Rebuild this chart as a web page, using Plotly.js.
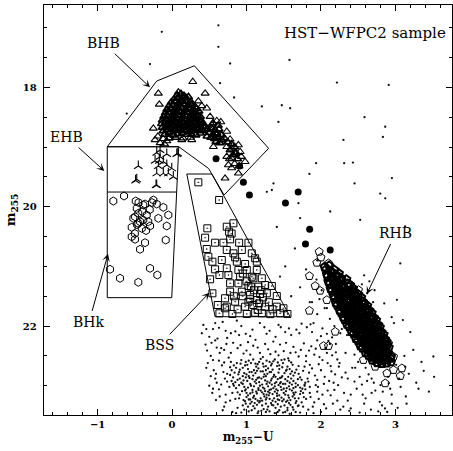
<!DOCTYPE html>
<html><head><meta charset="utf-8">
<script src="https://cdn.plot.ly/plotly-3.0.1.min.js"></script>
<style>html,body{margin:0;padding:0;background:#fff;}#plot{width:453px;height:451px;}</style>
</head><body><div id="plot"></div>
<script>
// ---- axes ----
const xTickVals = [-1, 0, 1, 2, 3];
const yTickVals = [18, 20, 22];
const xRange = [-1.72, 3.76];
const yRange = [23.49, 16.62];

// ---- region boundaries (data coords: [m255-U, m255]) ----
const bhbBox = [[-0.870,18.995],[-0.206,17.894],[0.300,17.638],[1.297,19.022],[0.699,19.804],[0.491,19.360],[0.090,18.995],[-0.870,18.995]];
const ehbBhkBox = [[-0.870,18.995],[0.090,18.995],[-0.004,21.524],[-0.870,21.524],[-0.870,18.995]];
const ehbDivider = [[-0.870,19.754],[0.062,19.754]];
const bssBox = [[0.198,19.452],[0.534,19.452],[1.586,21.843],[0.578,21.843],[0.198,19.452]];

// ---- BHB stars (triangles): isolated ones ----
const bhbStarsSparse = [
[0.278,17.906],[-0.184,18.10],[0.085,18.08],[0.444,18.10],[-0.171,18.285],[0.353,18.23],[0.466,18.35],[0.399,18.31],
[-0.251,18.687],[-0.228,18.88],[0.265,18.88],[0.130,18.88],[0.511,18.49],[0.601,18.56],[0.655,18.58],[0.534,18.63],
[0.520,18.715],[0.780,18.87],[0.735,18.995],[0.891,18.966],[0.914,19.079],[0.802,19.022],[0.981,19.246],[0.757,19.30],
[0.712,19.524],[0.891,19.44],[0.555,18.995],[-0.050,18.49],[0.735,18.74],[0.735,19.16],[0.802,19.19],[0.847,19.105],
[0.84,19.28],[0.80,19.35],[0.90,19.32],[0.93,19.16],[0.77,19.20],
[-0.12,18.86],[-0.07,18.90],[-0.10,18.95],[-0.16,18.93],[-0.19,18.82],[0.15,18.85],[0.25,18.84]
];
// ---- BHB stars (triangles): crowded clump ----
const bhbStarsDense = [
[0.07,18.13],[0.12,18.11],[0.16,18.14],
[0.03,18.19],[0.08,18.17],[0.13,18.20],[0.19,18.18],[0.22,18.16],
[-0.01,18.25],[0.04,18.23],[0.09,18.26],[0.14,18.24],[0.19,18.22],[0.24,18.25],[0.27,18.27],
[-0.04,18.31],[0.01,18.29],[0.06,18.32],[0.11,18.30],[0.16,18.28],[0.21,18.31],[0.26,18.30],[0.31,18.33],
[-0.07,18.37],[-0.02,18.35],[0.03,18.38],[0.08,18.36],[0.13,18.34],[0.18,18.37],[0.23,18.35],[0.28,18.38],[0.33,18.36],
[-0.09,18.43],[-0.04,18.41],[0.01,18.44],[0.06,18.42],[0.11,18.40],[0.16,18.43],[0.21,18.41],[0.26,18.44],[0.31,18.42],[0.36,18.40],
[-0.11,18.49],[-0.06,18.47],[-0.01,18.50],[0.04,18.48],[0.09,18.46],[0.14,18.49],[0.19,18.47],[0.24,18.50],[0.29,18.48],[0.34,18.46],[0.38,18.49],
[-0.13,18.55],[-0.08,18.53],[-0.03,18.56],[0.02,18.54],[0.07,18.52],[0.12,18.55],[0.17,18.53],[0.22,18.56],[0.27,18.54],[0.32,18.52],[0.37,18.55],[0.40,18.57],
[-0.14,18.61],[-0.09,18.59],[-0.04,18.62],[0.01,18.60],[0.06,18.58],[0.11,18.61],[0.16,18.59],[0.21,18.62],[0.26,18.60],[0.31,18.58],[0.36,18.61],[0.41,18.60],
[-0.13,18.67],[-0.08,18.65],[-0.03,18.68],[0.02,18.66],[0.07,18.64],[0.12,18.67],[0.17,18.65],[0.22,18.68],[0.27,18.66],[0.32,18.64],[0.37,18.67],[0.42,18.66],
[-0.12,18.73],[-0.07,18.71],[-0.02,18.74],[0.03,18.72],[0.08,18.70],[0.13,18.73],[0.18,18.71],[0.23,18.74],[0.28,18.72],[0.33,18.70],[0.38,18.73],[0.42,18.72],
[-0.10,18.79],[-0.04,18.77],[0.02,18.80],[0.08,18.78],[0.14,18.76],[0.20,18.79],[0.26,18.78],[0.32,18.80],[0.38,18.77],
[0.48,18.70],[0.53,18.68],[0.58,18.72],[0.63,18.70],[0.50,18.76],[0.55,18.79],[0.60,18.77],[0.66,18.80],[0.52,18.84],[0.57,18.86],
[0.62,18.83],[0.67,18.88],[0.59,18.91],[0.64,18.93],[0.70,18.85],[0.47,18.82],[0.45,18.66],[0.55,18.60],[0.62,18.64],
[0.75,18.92],[0.80,18.95],[0.84,19.00],[0.78,19.05],[0.86,19.10],[0.82,19.13],[0.88,19.20],
[-0.04,18.85],[0.05,18.84]
];

// ---- EHB stars (tri-stars) ----
const ehbStars = [
[-0.453,19.318],[-0.474,19.541],[-0.490,19.56],[0.077,19.106],[-0.206,19.095],[-0.161,19.162],[-0.228,19.229],[-0.117,19.246],
[-0.184,19.318],[-0.071,19.302],[-0.206,19.441],[-0.117,19.441],[-0.050,19.441],[-0.004,19.357],[-0.206,19.637],[-0.161,19.050],
[-0.071,19.117],[0.063,19.117],[0.017,19.497],[-0.171,19.229],[-0.215,19.637]
];

// ---- BHk stars (hexagons) ----
const bhkStars = [
[-0.789,19.905],[-0.645,19.821],[-0.488,19.905],[-0.363,19.955],[-0.251,19.888],[-0.206,19.955],[-0.117,20.010],[-0.050,20.139],
[-0.474,20.027],[-0.453,20.111],[-0.340,20.139],[-0.184,20.194],[-0.520,20.194],[-0.430,20.251],[-0.319,20.251],[-0.542,20.345],
[-0.407,20.362],[-0.296,20.323],[-0.071,20.323],[-0.542,20.503],[-0.497,20.546],[-0.363,20.603],[-0.085,20.558],[-0.430,20.714],
[-0.833,21.049],[-0.699,21.199],[-0.453,21.266],[-0.296,21.032],[-0.198,21.144],[-0.386,19.972],[-0.497,20.168],[-0.386,20.223],
[-0.453,20.278],[-0.45,19.93],[-0.27,19.93],[-0.40,20.08],[-0.30,20.05],[-0.47,20.30],[-0.35,20.40],[-0.50,20.45]
];

// ---- blue stragglers (squares) ----
const bssStars = [
[0.353,19.591],[0.632,19.888],[0.735,20.335],[0.824,20.278],[0.766,20.419],[0.474,20.362],[0.444,20.519],[0.578,20.603],
[0.690,20.603],[0.780,20.546],[0.901,20.603],[1.026,20.603],[0.466,20.709],[0.735,20.725],[0.824,20.781],[0.937,20.725],
[0.488,20.838],[0.542,20.921],[0.668,20.893],[0.847,20.848],[1.071,20.781],[1.116,20.864],[1.138,20.921],[0.870,20.921],
[0.981,20.960],[0.578,21.049],[0.735,21.032],[0.891,21.060],[1.004,21.060],[1.138,21.060],[0.636,21.144],[0.757,21.144],
[0.914,21.173],[1.093,21.199],[1.206,21.199],[0.511,21.216],[0.780,21.283],[0.891,21.283],[1.026,21.328],[1.160,21.340],
[1.250,21.312],[1.340,21.328],[0.542,21.451],[0.780,21.424],[0.937,21.424],[1.048,21.479],[1.183,21.462],[1.273,21.451],
[1.407,21.496],[0.712,21.534],[0.847,21.591],[1.026,21.591],[1.138,21.563],[0.614,21.647],[0.735,21.675],[0.981,21.675],
[1.093,21.647],[1.250,21.675],[1.407,21.675],[1.496,21.702],[0.636,21.786],[0.810,21.797],[1.004,21.797],[1.116,21.776],
[1.206,21.786],[1.452,21.786],[1.550,21.797],[0.712,21.702],[1.058,21.340],[1.071,21.173],[1.10,21.40],[1.05,21.55],
[1.17,21.62],[1.22,21.52],[1.30,21.60],[1.35,21.72],[0.95,21.50],[1.15,21.73],[0.88,21.72],[1.32,21.80],[1.00,21.25],
[0.95,21.12],[1.20,21.40],[0.83,21.50],[0.80,20.45]
];

// ---- RHB stars (pentagons): crowded sequence ----
const rhbStarsDense = [
[2.05,21.01],[2.11,20.99],
[2.07,21.05],[2.13,21.08],[2.18,21.06],
[2.08,21.13],[2.14,21.11],[2.20,21.14],[2.24,21.12],
[2.09,21.17],[2.15,21.19],[2.21,21.18],[2.27,21.20],
[2.10,21.25],[2.16,21.23],[2.22,21.26],[2.28,21.24],[2.34,21.22],
[2.12,21.29],[2.18,21.31],[2.24,21.30],[2.30,21.32],[2.36,21.29],[2.39,21.31],
[2.13,21.37],[2.19,21.35],[2.25,21.38],[2.31,21.36],[2.37,21.34],[2.43,21.37],
[2.15,21.41],[2.21,21.43],[2.27,21.42],[2.33,21.44],[2.39,21.41],[2.45,21.43],
[2.17,21.49],[2.23,21.47],[2.29,21.50],[2.35,21.48],[2.41,21.46],[2.47,21.49],[2.50,21.47],
[2.19,21.53],[2.25,21.55],[2.31,21.54],[2.37,21.56],[2.43,21.53],[2.49,21.55],[2.54,21.52],
[2.20,21.61],[2.26,21.59],[2.32,21.62],[2.38,21.60],[2.44,21.58],[2.50,21.61],[2.56,21.59],[2.58,21.62],
[2.22,21.65],[2.28,21.67],[2.34,21.66],[2.40,21.68],[2.46,21.65],[2.52,21.67],[2.58,21.64],[2.62,21.66],
[2.25,21.73],[2.31,21.71],[2.37,21.74],[2.43,21.72],[2.49,21.70],[2.55,21.73],[2.61,21.71],[2.65,21.74],
[2.27,21.77],[2.33,21.79],[2.39,21.78],[2.45,21.80],[2.51,21.77],[2.57,21.79],[2.63,21.76],[2.68,21.78],
[2.30,21.85],[2.36,21.83],[2.42,21.86],[2.48,21.84],[2.54,21.82],[2.60,21.85],[2.66,21.83],[2.71,21.86],
[2.32,21.89],[2.38,21.91],[2.44,21.90],[2.50,21.92],[2.56,21.89],[2.62,21.91],[2.68,21.88],[2.74,21.90],
[2.35,21.97],[2.41,21.95],[2.47,21.98],[2.53,21.96],[2.59,21.94],[2.65,21.97],[2.71,21.95],[2.77,21.98],
[2.38,22.01],[2.44,22.03],[2.50,22.02],[2.56,22.04],[2.62,22.01],[2.68,22.03],[2.74,22.00],[2.79,22.02],
[2.41,22.09],[2.47,22.07],[2.53,22.10],[2.59,22.08],[2.65,22.06],[2.71,22.09],[2.77,22.07],[2.81,22.10],
[2.44,22.13],[2.50,22.15],[2.56,22.14],[2.62,22.16],[2.68,22.13],[2.74,22.15],[2.80,22.12],[2.84,22.14],
[2.47,22.21],[2.53,22.19],[2.59,22.22],[2.65,22.20],[2.71,22.18],[2.77,22.21],[2.83,22.19],[2.86,22.22],
[2.50,22.25],[2.56,22.27],[2.62,22.26],[2.68,22.28],[2.74,22.25],[2.80,22.27],[2.86,22.24],[2.88,22.26],
[2.53,22.33],[2.59,22.31],[2.65,22.34],[2.71,22.32],[2.77,22.30],[2.83,22.33],[2.89,22.31],
[2.56,22.37],[2.62,22.39],[2.68,22.38],[2.74,22.40],[2.80,22.37],[2.86,22.39],[2.91,22.36],
[2.60,22.45],[2.66,22.43],[2.72,22.46],[2.78,22.44],[2.84,22.42],[2.90,22.45],
[2.64,22.49],[2.70,22.51],[2.76,22.50],[2.82,22.52],[2.88,22.49],[2.94,22.51],
[2.69,22.57],[2.75,22.55],[2.81,22.58],[2.87,22.56],[2.93,22.54],
[2.76,22.61],[2.82,22.63],[2.88,22.62],[2.94,22.60]
];
// ---- RHB stars (pentagons): isolated ones ----
const rhbStarsSparse = [
[1.976,20.754],[1.945,20.938],[1.845,21.161],[1.922,21.328],[1.845,21.742],[1.989,21.407],[2.079,21.563],[2.191,22.094],
[2.034,22.333],[2.101,22.333],[2.504,21.395],[2.571,22.568],[2.728,22.680],[2.886,22.791],[2.974,22.735],[3.087,22.707],
[3.065,22.836],[2.863,22.958],[2.751,22.623],[2.684,22.539],[2.101,20.948],[2.796,22.23],[2.907,22.288],[2.974,22.513],
[2.00,20.85]
];

// ---- filled circles ----
const dotStars = [
[0.591,19.196],[0.907,19.318],[0.958,19.591],[1.039,19.804],[1.523,19.938],[1.694,19.754],[1.848,20.377],[1.792,20.625],[2.124,20.725]
];

// ---- field stars (small dots) ----
const fieldStars = [
[0.93,22.57],[1.06,22.62],[1.19,22.55],[1.31,22.60],[1.44,22.66],[1.57,22.58],[1.01,22.65],[1.26,22.67],[1.38,22.56],[1.12,22.63],
[0.86,22.70],[0.98,22.66],[1.10,22.74],[1.23,22.68],[1.35,22.73],[1.48,22.69],[1.61,22.76],[1.04,22.77],[1.29,22.71],[1.53,22.75],
[0.84,22.78],[0.95,22.84],[1.07,22.77],[1.17,22.86],[1.28,22.80],[1.39,22.85],[1.51,22.79],[1.63,22.83],[1.00,22.81],[1.22,22.76],[1.45,22.87],[1.70,22.80],
[0.88,22.90],[0.99,22.86],[1.11,22.93],[1.20,22.88],[1.31,22.95],[1.42,22.89],[1.55,22.92],[1.66,22.96],[1.05,22.97],[1.25,22.91],[1.36,22.85],[1.49,22.97],[1.74,22.90],[0.93,22.95],
[0.90,22.99],[1.02,23.03],[1.13,22.96],[1.24,23.05],[1.34,22.98],[1.46,23.02],[1.58,23.06],[1.69,22.99],[1.08,23.07],[1.29,23.01],[1.40,23.06],[1.52,22.97],[1.18,23.00],[1.63,23.04],
[0.94,23.09],[1.05,23.13],[1.16,23.07],[1.27,23.15],[1.38,23.10],[1.50,23.12],[1.61,23.08],[1.72,23.14],[1.10,23.17],[1.33,23.06],[1.44,23.16],[1.56,23.16],[1.21,23.11],
[1.00,23.19],[1.12,23.22],[1.24,23.18],[1.35,23.25],[1.47,23.20],[1.59,23.24],[1.70,23.21],[1.07,23.27],[1.30,23.16],[1.53,23.27],[1.18,23.26],[1.41,23.17],
[1.05,23.30],[1.17,23.28],[1.29,23.35],[1.42,23.31],[1.55,23.37],[1.66,23.29],[1.23,23.39],[1.48,23.26],[1.36,23.33],[1.11,23.38],
[0.99,22.60],[1.15,22.64],[1.27,22.58],[1.42,22.61],[1.51,22.56],
[0.91,22.73],[1.16,22.71],[1.41,22.67],[1.58,22.72],[1.19,22.76],[1.33,22.66],
[0.89,22.81],[1.12,22.79],[1.33,22.77],[1.56,22.85],[1.26,22.84],[1.04,22.87],
[1.15,22.87],[1.28,22.93],[1.46,22.94],[1.60,22.88],[1.38,22.96],[1.01,22.92],
[0.97,23.02],[1.21,22.98],[1.36,23.04],[1.57,23.01],[1.45,22.96],[1.75,23.05],
[1.00,23.12],[1.25,23.09],[1.47,23.07],[1.66,23.11],[1.35,23.14],[1.13,23.10],
[1.03,23.23],[1.27,23.20],[1.44,23.24],[1.62,23.18],[1.21,23.25],[1.37,23.21],
[1.09,23.34],[1.33,23.29],[1.59,23.32],[1.20,23.42],[1.44,23.41],
[0.87,22.62],[1.03,22.58],[1.17,22.60],[1.34,22.63],[1.49,22.62],[1.62,22.65],[0.80,22.74],[0.95,22.70],[1.13,22.68],[1.26,22.74],
[1.44,22.72],[1.55,22.68],[1.67,22.73],[0.82,22.86],[0.97,22.79],[1.09,22.83],[1.24,22.81],[1.37,22.82],[1.48,22.84],[1.59,22.80],
[1.72,22.86],[0.85,22.94],[0.96,22.91],[1.08,22.89],[1.17,22.94],[1.33,22.91],[1.40,22.94],[1.52,22.89],[1.63,22.92],[1.79,22.95],
[0.86,23.04],[0.99,23.06],[1.10,23.01],[1.22,23.03],[1.31,23.07],[1.43,22.99],[1.54,23.04],[1.66,23.02],[1.78,23.00],[0.91,23.15],
[1.02,23.16],[1.14,23.13],[1.23,23.14],[1.31,23.12],[1.41,23.13],[1.53,23.09],[1.64,23.15],[1.76,23.12],[0.96,23.24],[1.09,23.20],
[1.15,23.25],[1.26,23.23],[1.39,23.27],[1.50,23.23],[1.57,23.20],[1.67,23.26],[1.02,23.35],[1.14,23.32],[1.26,23.30],[1.39,23.37],
[1.51,23.33],[1.62,23.36],[1.31,23.43],[1.49,23.45],[1.07,23.41],[1.74,23.28],
[0.83,22.66],[0.92,22.63],[1.09,22.56],[1.22,22.63],[1.36,22.59],[1.47,22.57],[1.60,22.61],[1.70,22.67],[0.78,22.82],[0.90,22.77],
[1.02,22.72],[1.14,22.75],[1.31,22.77],[1.43,22.78],[1.54,22.73],[1.65,22.78],[1.76,22.75],[0.80,22.92],[0.91,22.88],[1.03,22.84],
[1.13,22.90],[1.23,22.85],[1.34,22.88],[1.47,22.86],[1.58,22.95],[1.69,22.89],[1.82,22.88],[0.83,23.00],[0.95,22.97],[1.06,23.00],
[1.16,23.04],[1.27,22.97],[1.38,23.01],[1.50,23.05],[1.61,22.98],[1.72,23.03],[1.85,23.02],[0.88,23.11],[0.98,23.08],[1.08,23.11],
[1.19,23.08],[1.29,23.10],[1.42,23.08],[1.52,23.15],[1.63,23.12],[1.73,23.09],[0.90,23.21],[1.05,23.23],[1.19,23.21],[1.31,23.22],
[1.42,23.23],[1.55,23.25],[1.65,23.21],[1.77,23.19],[0.99,23.30],[1.11,23.29],[1.21,23.33],[1.34,23.32],[1.46,23.35],[1.57,23.29],
[1.69,23.34],[0.97,23.40],[1.16,23.43],[1.28,23.40],[1.42,23.44],[1.55,23.41],[1.66,23.44],
[0.42,21.98],[0.55,22.05],[0.68,21.93],[0.79,22.12],[0.93,22.00],[1.05,22.17],[1.18,21.95],[1.31,22.08],[1.46,22.02],[1.60,22.15],
[1.74,21.96],[1.88,22.10],[2.02,22.04],[2.15,22.19],[0.61,22.21],[0.87,21.91],[1.12,22.23],[1.39,22.18],[1.67,22.06],[1.95,22.24],
[0.45,22.31],[0.58,22.24],[0.70,22.40],[0.82,22.28],[0.96,22.46],[1.09,22.33],[1.22,22.52],[1.36,22.26],[1.50,22.42],[1.63,22.35],
[1.77,22.29],[1.91,22.48],[2.06,22.37],[2.20,22.44],[0.52,22.50],[0.76,22.53],[1.02,22.27],[1.29,22.39],[1.56,22.54],[1.84,22.41],
[2.12,22.30],[0.64,22.45],[1.15,22.36],[1.43,22.49],[1.70,22.51],
[0.40,22.12],[0.50,22.18],[0.63,22.03],[0.74,22.20],[0.85,22.09],[0.99,22.13],[1.24,22.02],[1.52,22.10],[1.81,22.02],[2.08,22.13],
[0.47,22.41],[0.60,22.36],[0.73,22.30],[0.88,22.37],[1.00,22.41],[1.18,22.45],[1.32,22.47],[1.45,22.31],[1.59,22.45],[1.73,22.40],
[1.87,22.34],[1.98,22.52],[2.15,22.49],[0.55,22.57],[0.69,22.77],[0.79,22.60],[0.58,22.88],[0.74,22.93],[0.50,23.00],[0.63,23.06],
[0.85,23.22],[0.72,23.15],[0.81,23.44],[0.95,23.33],[1.85,22.65],[1.92,22.83],[2.00,22.74],[2.09,22.62],[2.17,22.95],[1.85,23.12],
[1.97,23.22],[2.07,23.38],[2.18,23.07],[1.90,23.46],[1.78,22.68],[2.28,22.86],[2.31,23.12],[2.38,23.42],
[0.46,22.05],[0.58,21.95],[0.72,22.08],[0.90,22.15],[1.08,22.06],[1.27,22.13],[1.43,21.98],[1.57,22.04],[1.71,22.12],[1.86,21.97],
[2.00,22.17],[0.53,22.28],[0.66,22.37],[0.79,22.45],[0.92,22.32],[1.05,22.48],[1.25,22.30],[1.39,22.43],[1.53,22.28],[1.66,22.44],
[1.80,22.50],[1.93,22.38],[2.08,22.45],[2.22,22.56],[0.46,22.70],[0.59,22.80],[0.70,22.61],[0.66,22.98],[0.54,23.12],[0.70,23.35],
[0.78,23.25],[0.86,23.46],[1.84,22.78],[1.95,22.90],[2.04,22.97],[2.13,22.67],[2.23,22.99],[1.89,23.35],[2.02,23.15],[2.16,23.30],
[2.26,23.40],[1.96,23.02],[2.33,22.78],[2.45,22.93],[2.56,23.15],[2.68,22.88],[2.82,23.33],[2.40,23.38],[2.93,23.05],[2.52,23.45],
[0.48,22.62],[0.56,22.74],[0.63,22.58],[0.71,22.88],[0.78,22.69],[0.60,22.95],[0.74,22.80],[0.52,22.84],[0.82,22.97],[0.67,22.66],
[1.80,22.59],[1.88,22.71],[1.97,22.64],[2.05,22.85],[2.14,22.76],[2.24,22.68],[1.83,22.93],[1.93,22.99],[2.02,22.57],[2.11,22.92],[2.19,22.81],[1.78,22.98],
[0.55,23.05],[0.64,23.18],[0.72,23.28],[0.81,23.12],[0.88,23.37],[0.68,23.41],[0.77,23.02],[0.59,23.24],
[1.79,23.06],[1.86,23.19],[1.95,23.10],[2.04,23.31],[2.13,23.16],[2.22,23.25],[1.83,23.40],[1.91,23.28],[2.00,23.44],[2.09,23.08],[1.76,23.35],[1.72,23.45],[1.80,23.22],
[0.93,23.45],[0.98,23.26],[1.15,23.46],[1.26,23.44],[1.38,23.46],[1.52,23.44],[1.63,23.40],[1.70,23.33],[1.58,23.47],[1.03,23.43],
[2.25,22.62],[2.36,22.88],[2.48,23.05],[2.60,23.21],[2.71,22.95],[2.83,23.10],[2.95,23.30],[3.07,23.02],[3.18,22.80],[2.30,23.35],
[2.42,22.70],[2.55,22.98],[2.67,23.40],[2.79,23.27],[2.91,22.96],[3.03,23.37],[3.14,23.18],[2.33,22.45],[2.50,22.60],[2.64,22.81],
[2.77,23.43],[2.89,23.44],[3.01,22.65],[3.12,22.50],[2.40,23.15],[2.58,23.30],[2.73,23.08],[2.86,23.38],[3.24,22.40],[3.31,23.05],
[2.45,22.48],[2.52,22.85],[2.68,23.12],[2.80,22.99],[2.95,23.15],[3.05,22.88],[2.36,23.25],[2.60,22.70],[3.15,23.30],[2.90,22.85],
[2.20,22.30],[2.28,22.05],[2.46,22.70],[2.98,21.95],[3.10,21.90],[1.95,21.80],[2.08,21.70],[2.15,21.55],[3.20,22.10],[2.62,22.92],
[1.98,21.55],[2.05,21.70],[2.12,21.88],[1.90,21.95],[1.94,21.22],[2.18,22.00],[2.01,21.40],[2.26,22.12],[1.85,21.60],[2.10,22.25],
[2.35,22.15],[2.40,21.40],[2.55,21.30],[2.70,21.60],[2.62,21.45],
[2.58,21.15],[2.72,21.40],[2.85,21.62],[2.65,21.25],[2.95,21.85],
[1.577,17.54],[2.214,17.92],[1.206,18.32],[1.474,18.30],[1.586,18.35],[1.429,18.58],[2.585,18.50],[2.832,18.83],[2.302,18.88],[1.935,19.27],
[2.312,19.27],[2.429,19.26],[1.845,19.45],[2.451,19.61],[1.273,19.75],[2.796,19.78],[1.698,19.94],[2.124,20.08],[1.720,20.19],[2.527,20.22],
[0.833,18.17],[1.362,19.61],[-0.138,17.07],[0.622,16.96],[0.622,17.32],[-0.296,17.61],[-0.609,18.44],[0.780,17.60],[0.645,17.93],
[2.863,18.66],[2.863,19.86],[2.953,19.52],[2.91,17.96],[3.13,20.33],[3.065,20.95],[3.02,21.56],[3.13,22.68],[3.51,22.51],[3.35,22.60],
[3.28,22.95],[3.45,23.10],[3.38,22.75],[3.52,22.85],[1.34,19.72],[1.407,20.34],[1.52,21.0],[1.45,21.17],
[1.65,20.70],[1.80,21.05],[1.72,21.35],[1.88,21.60],[1.60,21.50],[1.95,20.90]
];

// ---- labels ----
const labelTexts = ['BHB', 'EHB', 'BHk', 'BSS', 'RHB'];
const labelPos = [[-0.923,17.253],[-1.415,18.827],[-1.116,21.937],[-0.171,22.322],[3.007,20.436]];
const arrowTips = [[-0.296,18.000],[-0.910,19.400],[-0.860,20.790],[0.501,21.440],[2.617,21.462]];
const sampleTitle = 'HST−WFPC2 sample';

const xs = a => a.map(p => p[0]);
const ys = a => a.map(p => p[1]);
const black = 'black';
const serif = 'DejaVu Serif';

const lineTrace = pts => ({type:'scatter', mode:'lines', x:xs(pts), y:ys(pts),
  line:{color:black, width:1}, hoverinfo:'skip'});
const symTrace = (pts, sym, size, lw) => ({type:'scatter', mode:'markers', x:xs(pts), y:ys(pts),
  marker:{symbol:sym, size:size, color:black, line:{width:lw, color:black}}});

const traces = [
  {type:'scatter', mode:'markers', x:xs(fieldStars), y:ys(fieldStars),
   marker:{symbol:'circle', size:2.3, color:'#111', line:{width:0}}},
  lineTrace(bhbBox), lineTrace(ehbBhkBox), lineTrace(ehbDivider), lineTrace(bssBox),
  symTrace(bhbStarsDense, 'triangle-up-open', 7, 1.6),
  symTrace(bhbStarsSparse, 'triangle-up-open', 7, 1.1),
  symTrace(ehbStars, 'y-up', 7, 1.1),
  symTrace(bhkStars, 'hexagon-open', 8, 1),
  symTrace(bssStars, 'square-open-dot', 7, 1),
  symTrace(rhbStarsDense, 'pentagon-open', 8.5, 2),
  symTrace(rhbStarsSparse, 'pentagon-open', 8.5, 1),
  {type:'scatter', mode:'markers', x:xs(dotStars), y:ys(dotStars),
   marker:{symbol:'circle', size:7, color:black, line:{width:0}}}
];

const annotations = labelTexts.map((t, i) => ({
  x:arrowTips[i][0], y:arrowTips[i][1], xref:'x', yref:'y',
  ax:labelPos[i][0], ay:labelPos[i][1], axref:'x', ayref:'y',
  text:t, showarrow:true, arrowhead:3, arrowsize:1.3, arrowwidth:1, arrowcolor:black,
  standoff:0, startstandoff:2, font:{family:serif, size:14, color:black}
}));
annotations.push({x:2.594, y:17.085, xref:'x', yref:'y', text:sampleTitle, showarrow:false,
  font:{family:serif, size:15, color:black}, xanchor:'center', yanchor:'middle'});

const layout = {
  width:453, height:451,
  margin:{l:44, r:1, t:5, b:36, pad:0},
  paper_bgcolor:'white', plot_bgcolor:'white',
  showlegend:false, hovermode:false,
  font:{family:serif, color:black},
  xaxis:{
    range:xRange, showgrid:false, zeroline:false, automargin:false,
    showline:true, linecolor:black, linewidth:1.3, mirror:'ticks',
    ticks:'inside', ticklen:6, tickwidth:1, tickcolor:black,
    tickmode:'array', tickvals:xTickVals,
    minor:{tickmode:'linear', tick0:0, dtick:0.2, ticks:'inside', ticklen:3, tickwidth:1, tickcolor:black, showgrid:false},
    tickfont:{family:serif, size:10, weight:'bold', color:black},
    title:{text:'m<sub>255</sub>−U', font:{family:serif, size:12, weight:'bold', color:black}, standoff:2}
  },
  yaxis:{
    range:yRange, showgrid:false, zeroline:false, automargin:false,
    showline:true, linecolor:black, linewidth:1.3, mirror:'ticks',
    ticks:'inside', ticklen:6, tickwidth:1, tickcolor:black,
    tickmode:'array', tickvals:yTickVals,
    minor:{tickmode:'linear', tick0:0, dtick:0.5, ticks:'inside', ticklen:3, tickwidth:1, tickcolor:black, showgrid:false},
    tickfont:{family:serif, size:10, weight:'bold', color:black},
    ticklabelstandoff:4,
    title:{text:'m<sub>255</sub>', font:{family:serif, size:13, weight:'bold', color:black}, standoff:4}
  },
  annotations:annotations
};

Plotly.newPlot('plot', traces, layout, {staticPlot:true, displayModeBar:false});
</script>
</body></html>
